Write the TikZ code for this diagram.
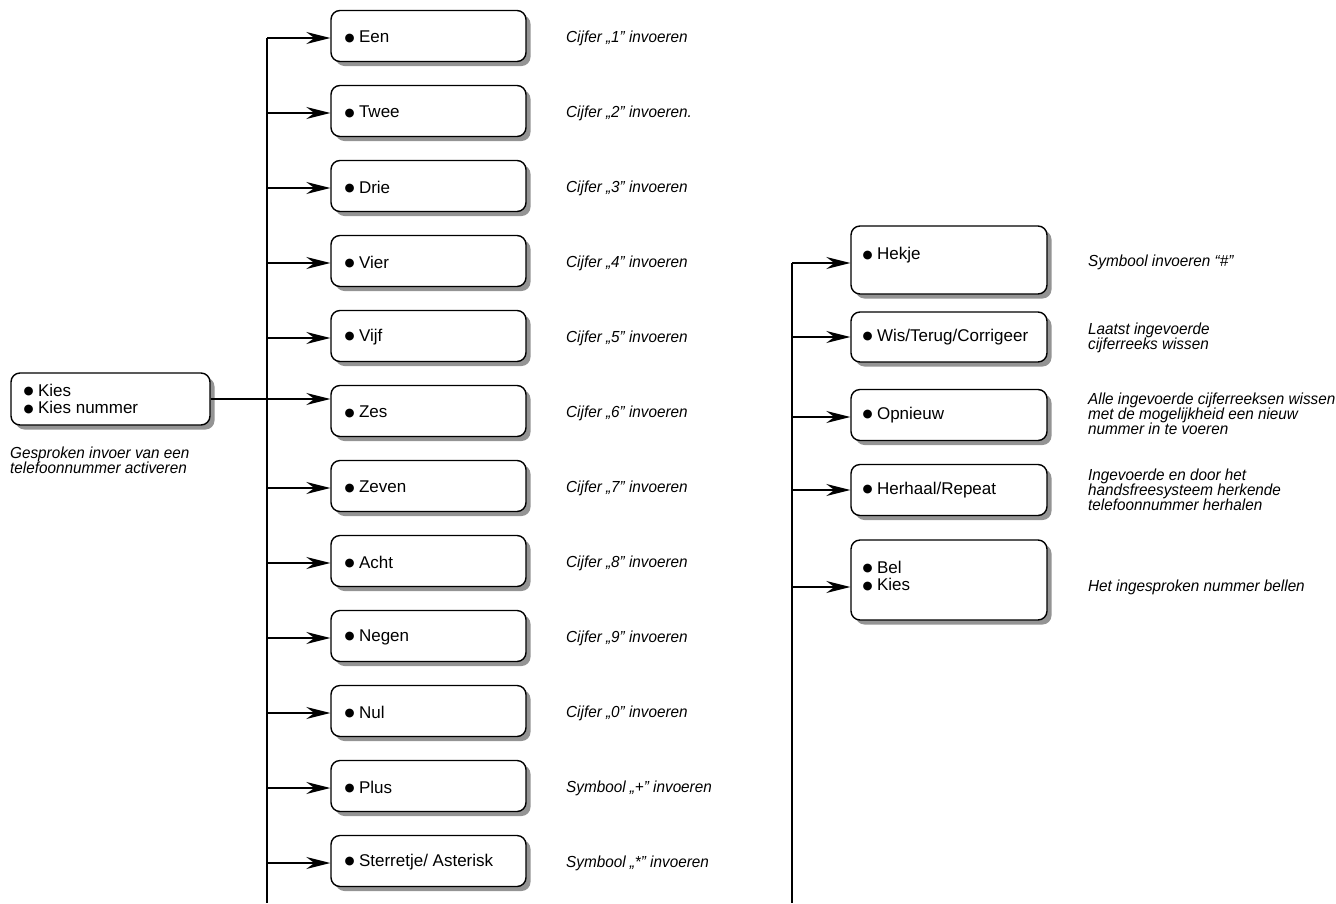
\documentclass[tikz,border=0pt]{standalone}
\usepackage{fontspec}
\setmainfont{Liberation Sans}
\newfontfamily\descfont{Liberation Sans}[FakeStretch=0.955]
\newfontfamily\symfont{DejaVu Sans}
\usetikzlibrary{arrows.meta,shadows,positioning}
\tikzset{
  box/.style={draw=black, line width=1.4pt, rounded corners=9pt, fill=white,
    minimum width=195pt, minimum height=51pt, inner sep=0pt,
    drop shadow={shadow xshift=4.5pt, shadow yshift=-4.5pt, fill=black!42, opacity=1}},
  lbl/.style={anchor=west, inner sep=0pt, align=left, font=\fontsize{17}{17.5}\selectfont},
  desc/.style={anchor=west, inner sep=0pt, align=left, font=\descfont\fontsize{16}{15}\selectfont\itshape},
  conn/.style={line width=1.3pt, draw=black},
  arr/.style={conn, -{Stealth[length=24pt,width=12pt,inset=8pt]}},
}
\newcommand{\bul}{\raisebox{1.6pt}{\symfont\fontsize{11.5}{11.5}\selectfont ●}\hspace{4.5pt}}
\begin{document}
\begin{tikzpicture}[x=1pt,y=-1pt]
\useasboundingbox (0,0) rectangle (1336,903);
% buses
\coordinate (busLtop) at (267,38);
\coordinate (busLbot) at (267,903);
\coordinate (busRtop) at (792,263);
\coordinate (busRbot) at (792,903);
\draw[conn] (busLtop) -- (busLbot);
\draw[conn] (busRtop) -- (busRbot);
% left box
\node[box, minimum width=199pt, minimum height=52pt] (kies) at (110.5,399) {};
\node[lbl] (kiesl) at ([xshift=13pt]kies.west) {\bul Kies\\\bul Kies nummer};
\node[desc] (kiesd) at (10,460) {Gesproken invoer van een\\telefoonnummer activeren};
% middle column
\foreach \n/\t/\d [count=\i from 0] in {
  een/Een/{Cijfer „1” invoeren},
  twee/Twee/{Cijfer „2” invoeren.},
  drie/Drie/{Cijfer „3” invoeren},
  vier/Vier/{Cijfer „4” invoeren},
  vijf/Vijf/{Cijfer „5” invoeren},
  zes/Zes/{Cijfer „6” invoeren},
  zeven/Zeven/{Cijfer „7” invoeren},
  acht/Acht/{Cijfer „8” invoeren},
  negen/Negen/{Cijfer „9” invoeren},
  nul/Nul/{Cijfer „0” invoeren},
  plus/Plus/{Symbool „+” invoeren},
  ster/{Sterretje/ Asterisk}/{Symbool „*” invoeren}} {
  \node[box] (\n) at (428.5,{36+75*\i}) {};
  \node[lbl] (\n l) at ([xshift=14pt,yshift=-1pt]\n.west) {\bul \t};
  \node[desc] (\n d) at (566,{38+75*\i}) {\d};
}
\foreach \n in {een,twee,drie,vier,vijf,zeven,acht,negen,nul,plus,ster} {
  \draw[arr] ([yshift=-2pt]\n.west -| busLtop) -- ([yshift=-2pt]\n.west);
}
\draw[arr] (kies.east) -- (kies.east -| zes.west);
% right column
\node[box, minimum width=196pt, minimum height=68pt] (hekje) at (949,260) {};
\node[lbl] (hekjel) at ([xshift=12pt,yshift=-30pt]hekje.north west) {\bul Hekje};
\node[desc] (hekjed) at (1088,262) {Symbool invoeren “\#”};
\node[box, minimum width=196pt, minimum height=50pt] (wis) at (949,337) {};
\node[lbl] (wisl) at ([xshift=12pt]wis.west) {\bul Wis/Terug/Corrigeer};
\node[desc] (wisd) at (1088,337.5) {Laatst ingevoerde\\cijferreeks wissen};
\node[box, minimum width=196pt, minimum height=51pt] (opn) at (949,415) {};
\node[lbl] (opnl) at ([xshift=12pt]opn.west) {\bul Opnieuw};
\node[desc] (opnd) at (1088,414) {Alle ingevoerde cijferreeksen wissen\\met de mogelijkheid een nieuw\\nummer in te voeren};
\node[box, minimum width=196pt, minimum height=51pt] (herh) at (949,490) {};
\node[lbl] (herhl) at ([xshift=12pt]herh.west) {\bul Herhaal/Repeat};
\node[desc] (herhd) at (1088,490) {Ingevoerde en door het\\handsfreesysteem herkende\\telefoonnummer herhalen};
\node[box, minimum width=196pt, minimum height=80pt] (bel) at (949,580) {};
\node[lbl] (bell) at ([xshift=12pt,yshift=4pt]bel.west) {\bul Bel\\\bul Kies};
\node[desc] (beld) at (1088,587) {Het ingesproken nummer bellen};
\draw[arr] (busRtop) -- (busRtop -| hekje.west);
\draw[arr] (wis.west -| busRtop) -- (wis.west);
\draw[arr] ([yshift=-2pt]opn.west -| busRtop) -- ([yshift=-2pt]opn.west);
\draw[arr] (herh.west -| busRtop) -- (herh.west);
\draw[arr] ([yshift=-7pt]bel.west -| busRtop) -- ([yshift=-7pt]bel.west);
\end{tikzpicture}
\end{document}
